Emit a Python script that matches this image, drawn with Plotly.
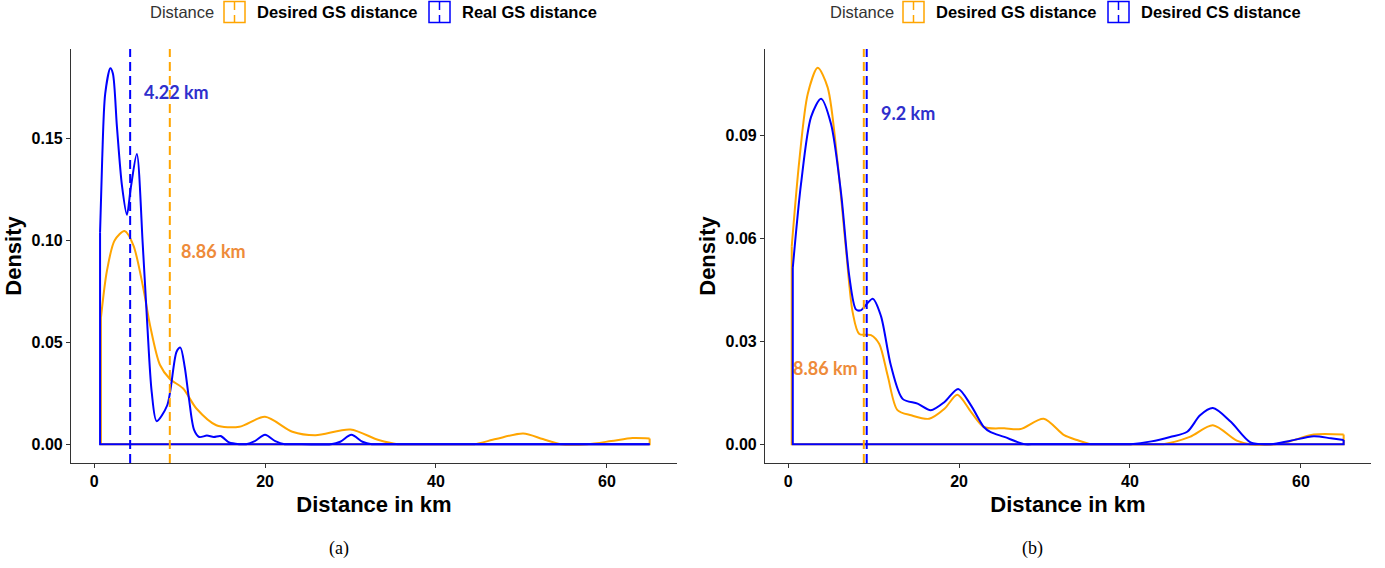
import plotly.graph_objects as go

# ---------------- data ----------------
# Panel (a)
a_desired_x = [0.8, 1.5, 2.4, 3.56, 4.6, 5.77, 6.55, 7.7, 8.87, 10.42, 11.97, 14.3, 17.0, 20.0,
               23.2, 25.9, 30.0, 33.3, 35.5, 37.0, 43.0, 44.5, 47.0, 50.2, 52.5, 54.6, 57.7, 60.5,
               63.0, 65.0]
a_desired_y = [0.062, 0.085, 0.100, 0.1046, 0.0976, 0.0763, 0.0583, 0.039, 0.032, 0.0273, 0.0175,
               0.0093, 0.0085, 0.0134, 0.0061, 0.0044, 0.0072, 0.002, 0.0, 0.0, 0.0, 0.0, 0.0025,
               0.0052, 0.0025, 0.0, 0.0, 0.0015, 0.003, 0.0028]
a_real_x = [0.7, 0.95, 1.3, 1.9, 2.2, 2.67, 3.26, 3.84, 4.3, 5.0, 5.7, 6.23, 6.74, 7.32, 8.56, 9.65,
            10.1, 10.6, 11.1, 11.7, 12.3, 13.2, 14.0, 14.8, 15.8, 17.0, 17.8, 18.8, 20.0, 21.2,
            22.3, 23.3, 27.7, 28.8, 30.1, 31.4, 32.5, 34.0, 65.0]
a_real_y = [0.104, 0.140, 0.172, 0.1845, 0.182, 0.156, 0.127, 0.1126, 0.126, 0.1425, 0.0976, 0.0583,
            0.0257, 0.0113, 0.0191, 0.0454, 0.0474, 0.038, 0.0224, 0.007, 0.0035, 0.0042, 0.0035,
            0.0040, 0.0008, 0.0, 0.0, 0.0015, 0.0046, 0.0015, 0.0, 0.0, 0.0, 0.0012, 0.0046, 0.0012,
            0.0, 0.0, 0.0]
a_means = {"Desired GS distance": 8.86, "Real GS distance": 4.22}

# Panel (b)
b_desired_x = [0.43, 1.32, 2.3, 3.47, 4.63, 5.8, 6.78, 7.56, 8.33, 9.7, 10.67, 11.65, 12.8, 14.4,
               16.5, 18.3, 19.8, 21.4, 22.9, 25.3, 27.2, 29.9, 32.3, 33.8, 35.4, 37.0, 42.5, 43.9,
               47.0, 49.7, 52.5, 54.0, 57.0, 58.8, 61.5, 65.0]
b_desired_y = [0.0577, 0.0828, 0.1021, 0.1097, 0.104, 0.0819, 0.0567, 0.0384, 0.0321, 0.0318, 0.0292,
               0.02, 0.0099, 0.0084, 0.0074, 0.0103, 0.0144, 0.0094, 0.005, 0.0046, 0.0044, 0.0074,
               0.0026, 0.0012, 0.0, 0.0, 0.0, 0.0, 0.0021, 0.0055, 0.001, 0.0, 0.0, 0.0009, 0.0028,
               0.0028]
b_cs_x = [0.55, 1.52, 2.69, 3.86, 5.02, 6.2, 7.16, 7.94, 8.5, 9.9, 10.86, 12.03, 13.4, 15.15, 16.7,
          18.3, 19.9, 21.4, 22.9, 23.7, 25.3, 27.6, 29.0, 38.5, 40.1, 42.5, 44.7, 46.7, 48.2, 49.7,
          51.8, 54.1, 56.5, 58.8, 61.5, 63.5, 65.0]
b_cs_y = [0.0514, 0.076, 0.0954, 0.1007, 0.0934, 0.0731, 0.049, 0.0393, 0.039, 0.0424, 0.0374, 0.0229,
          0.0132, 0.0118, 0.0099, 0.0123, 0.0161, 0.0113, 0.005, 0.0035, 0.0021, 0.0, 0.0, 0.0, 0.0,
          0.0008, 0.0021, 0.0036, 0.0084, 0.0105, 0.0065, 0.0005, 0.0, 0.001, 0.0023, 0.0017, 0.0012]
b_means = {"Desired GS distance": 8.86, "Desired CS distance": 9.2}

x_ticks = [0, 20, 40, 60]
a_y_ticks = [0.00, 0.05, 0.10, 0.15]
b_y_ticks = [0.00, 0.03, 0.06, 0.09]

ORANGE = "#FFA500"
BLUE = "#0000FF"
TXT_ORANGE = "#EE8B3A"
TXT_BLUE = "#2F2FCC"

W, H = 1385, 568
def px(x):
    return x / W
def py(y):
    return 1 - y / H

fig = go.Figure()

def add_density(xs, ys, color, xa, ya):
    # outline edges (vertical ends + baseline), like ggplot geom_density
    fig.add_trace(go.Scatter(x=[xs[0], xs[0], xs[-1], xs[-1]], y=[ys[0], 0, 0, ys[-1]],
                             mode="lines", line=dict(color=color, width=2),
                             xaxis=xa, yaxis=ya, showlegend=False, hoverinfo="skip"))
    fig.add_trace(go.Scatter(x=xs, y=ys, mode="lines",
                             line=dict(color=color, width=2, shape="spline", smoothing=0.8),
                             xaxis=xa, yaxis=ya, showlegend=False))

add_density(a_desired_x, a_desired_y, ORANGE, "x", "y")
add_density(a_real_x, a_real_y, BLUE, "x", "y")
add_density(b_desired_x, b_desired_y, ORANGE, "x2", "y2")
add_density(b_cs_x, b_cs_y, BLUE, "x2", "y2")

# mean lines
for name, val in a_means.items():
    c = ORANGE if name.startswith("Desired GS") else BLUE
    fig.add_shape(type="line", xref="x", yref="y domain", x0=val, x1=val, y0=0, y1=1,
                  line=dict(color=c, width=2, dash="9px,5px"))
for name, val in b_means.items():
    c = ORANGE if name.startswith("Desired GS") else BLUE
    fig.add_shape(type="line", xref="x2", yref="y2 domain", x0=val, x1=val, y0=0, y1=1,
                  line=dict(color=c, width=2, dash="9px,5px"))

lab_font = dict(family="Lato", size=18, weight="bold")
fig.add_annotation(x=5.6, y=0.1727, xref="x", yref="y", text=f"{a_means['Real GS distance']} km",
                   showarrow=False, xanchor="left", font=dict(**lab_font, color=TXT_BLUE))
fig.add_annotation(x=9.9, y=0.0948, xref="x", yref="y", text=f"{a_means['Desired GS distance']} km",
                   showarrow=False, xanchor="left", font=dict(**lab_font, color=TXT_ORANGE))
fig.add_annotation(x=10.6, y=0.0966, xref="x2", yref="y2", text=f"{b_means['Desired CS distance']} km",
                   showarrow=False, xanchor="left", font=dict(**lab_font, color=TXT_BLUE))
fig.add_annotation(x=8.4, y=0.0222, xref="x2", yref="y2", text=f"{b_means['Desired GS distance']} km",
                   showarrow=False, xanchor="right", font=dict(**lab_font, color=TXT_ORANGE))

# manual legends (ggplot style keys)
def legend(x_title, items):
    fig.add_annotation(x=px(x_title), y=py(12), xref="paper", yref="paper", text="Distance",
                       showarrow=False, xanchor="left", yanchor="middle",
                       font=dict(family="Liberation Sans", size=16.5, color="#333333"))
    for bx, color, label in items:
        fig.add_shape(type="rect", xref="paper", yref="paper",
                      x0=px(bx), x1=px(bx + 21), y0=py(1.5), y1=py(22.5),
                      line=dict(color=color, width=1.5), fillcolor="rgba(0,0,0,0)")
        cx = bx + 10.5
        fig.add_shape(type="line", xref="paper", yref="paper", x0=px(cx), x1=px(cx),
                      y0=py(1.5), y1=py(10), line=dict(color=color, width=1.5))
        fig.add_shape(type="line", xref="paper", yref="paper", x0=px(cx), x1=px(cx),
                      y0=py(15), y1=py(22.5), line=dict(color=color, width=1.5))
        fig.add_annotation(x=px(bx + 31), y=py(12), xref="paper", yref="paper", text=label,
                           showarrow=False, xanchor="left", yanchor="middle",
                           font=dict(family="Liberation Sans", size=16.5, color="black", weight="bold"))

legend(148, [(224, ORANGE, "Desired GS distance"), (429, BLUE, "Real GS distance")])
legend(828, [(903, ORANGE, "Desired GS distance"), (1108, BLUE, "Desired CS distance")])

# captions
for cx, t in [(339, "(a)"), (1032, "(b)")]:
    fig.add_annotation(x=px(cx), y=py(548), xref="paper", yref="paper", text=t, showarrow=False,
                       xanchor="center", yanchor="middle",
                       font=dict(family="Liberation Serif", size=18, color="black"))

tick_font = dict(family="Liberation Sans", size=16, color="black", weight="bold")
title_font = dict(family="Liberation Sans", size=22, color="black", weight="bold")
axis_common = dict(showgrid=False, zeroline=False, showline=True, linecolor="#333333", linewidth=1.2,
                   ticks="outside", ticklen=4, tickwidth=1.2, tickcolor="#333333", tickfont=tick_font)

ydom = [py(463), py(49)]
fig.update_layout(
    width=W, height=H, paper_bgcolor="white", plot_bgcolor="white",
    margin=dict(l=0, r=0, t=0, b=0), showlegend=False,
    xaxis=dict(domain=[px(71), px(677)], range=[-2.7, 68.2], tickvals=x_ticks,
               title=dict(text="Distance in km", font=title_font, standoff=7), anchor="y", **axis_common),
    yaxis=dict(domain=ydom, range=[-0.00925, 0.194], tickvals=a_y_ticks, tickformat=".2f",
               title=dict(text="Density", font=title_font, standoff=3), anchor="x", **axis_common),
    xaxis2=dict(domain=[px(765), px(1371)], range=[-2.7, 68.2], tickvals=x_ticks,
                title=dict(text="Distance in km", font=title_font, standoff=7), anchor="y2", **axis_common),
    yaxis2=dict(domain=ydom, range=[-0.0055, 0.1152], tickvals=b_y_ticks, tickformat=".2f",
                title=dict(text="Density", font=title_font, standoff=3), anchor="x2", **axis_common),
)

fig.write_html("out.html", config={"displayModeBar": False},
               post_script="document.body.style.margin='0px';")
